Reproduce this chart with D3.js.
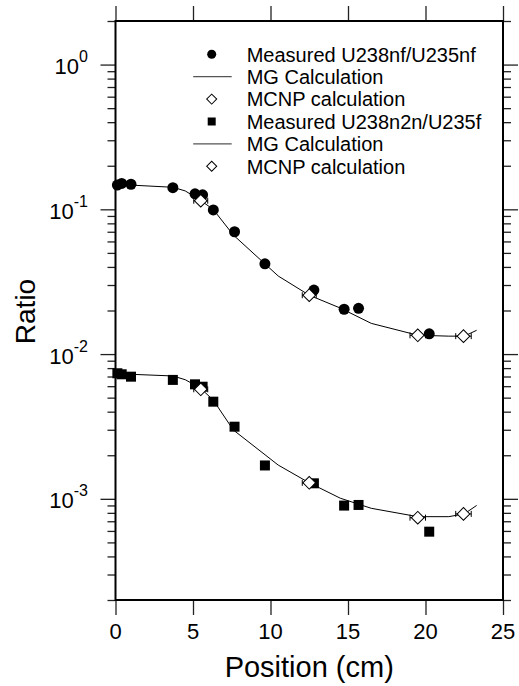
<!DOCTYPE html>
<html>
<head>
<meta charset="utf-8">
<script src="https://cdn.jsdelivr.net/npm/d3@7"></script>
<style>
  body { margin: 0; background: #fff; }
  svg { display: block; font-family: "Liberation Sans", Arial, sans-serif; }
</style>
</head>
<body>
<svg id="chart" width="519" height="686"></svg>
<script>
// Measured U238nf/U235nf
const nfPos = [0.12, 0.4, 1.0, 3.7, 5.13, 5.62, 6.31, 7.68, 9.64, 12.8, 14.75, 15.68, 20.24];
const nfVal = [0.147, 0.151, 0.149, 0.141, 0.128, 0.126, 0.099, 0.070, 0.042, 0.0277, 0.0204, 0.0207, 0.0138];

// Measured U238n2n/U235f
const n2nPos = [0.12, 0.4, 1.0, 3.7, 5.13, 5.62, 6.31, 7.68, 9.64, 12.8, 14.75, 15.68, 20.24];
const n2nVal = [0.00737, 0.00725, 0.00698, 0.00663, 0.00618, 0.00595, 0.00469, 0.00315, 0.00170, 0.00128, 0.000898, 0.000907, 0.000593];

// MG calculation (both ratios share the mesh)
const mgPos = [0, 1.0, 3.7, 4.5, 5.45, 6.3, 7.6, 10.5, 12.5, 14.5, 16.5, 19.5, 21.5, 22.5, 23.3];
const mgNf = [0.148, 0.147, 0.142, 0.134, 0.116, 0.100, 0.0665, 0.0346, 0.0255, 0.0208, 0.0163, 0.0135, 0.0133, 0.0133, 0.0146];
const mgN2n = [0.0074, 0.00725, 0.00706, 0.00665, 0.00585, 0.00482, 0.00299, 0.00171, 0.00129, 0.00101, 0.00086, 0.000753, 0.000753, 0.000787, 0.0009];

// MCNP calculation with position uncertainty
const mcnpPos = [5.5, 12.5, 19.5, 22.45];
const mcnpErr = [0.45, 0.45, 0.5, 0.5];
const mcnpNf = [0.1146, 0.0255, 0.01348, 0.0133];
const mcnpN2n = [0.00571, 0.00129, 0.000741, 0.000787];

const xTicks = [0, 5, 10, 15, 20, 25];
const yMajor = [1, 0.1, 0.01, 0.001];
const yExp = [0, -1, -2, -3];

const legendItems = [
  { type: 'circle', label: 'Measured U238nf/U235nf' },
  { type: 'line', label: 'MG Calculation' },
  { type: 'diamond', label: 'MCNP calculation' },
  { type: 'square', label: 'Measured U238n2n/U235f' },
  { type: 'line', label: 'MG Calculation' },
  { type: 'diamond', label: 'MCNP calculation' },
];

const svg = d3.select('#chart');
const frame = { left: 115.5, right: 503, top: 21, bottom: 600 };

const x = d3.scaleLinear().domain([0, 25]).range([frame.left, frame.right]);
const y = d3.scaleLog().domain([2e-4, 2]).range([frame.bottom, frame.top]);

// Minor ticks 2..9 per decade
const yMinor = [];
for (let e = -4; e <= 0; e++) {
  for (let m = 2; m <= 9; m++) {
    const v = m * Math.pow(10, e);
    if (v >= 2e-4 && v <= 2.0001) yMinor.push(v);
  }
}

function styleAxis(g) {
  g.select('.domain').remove();
  g.selectAll('line').attr('stroke', '#222').attr('stroke-width', 1.3);
  g.selectAll('text').remove();
}

svg.append('g').attr('transform', `translate(${frame.left},0)`)
  .call(d3.axisLeft(y).tickValues(yMinor).tickSize(8)).call(styleAxis);
svg.append('g').attr('transform', `translate(${frame.left},0)`)
  .call(d3.axisLeft(y).tickValues(yMajor).tickSize(15)).call(styleAxis);
svg.append('g').attr('transform', `translate(${frame.right},0)`)
  .call(d3.axisRight(y).tickValues(yMinor).tickSize(8)).call(styleAxis);
svg.append('g').attr('transform', `translate(${frame.right},0)`)
  .call(d3.axisRight(y).tickValues(yMajor).tickSize(15)).call(styleAxis);
svg.append('g').attr('transform', `translate(0,${frame.bottom})`)
  .call(d3.axisBottom(x).tickValues(xTicks).tickSize(15)).call(styleAxis);
svg.append('g').attr('transform', `translate(0,${frame.top})`)
  .call(d3.axisTop(x).tickValues(xTicks).tickSize(15)).call(styleAxis);

// Frame
svg.append('rect')
  .attr('x', frame.left).attr('y', frame.top)
  .attr('width', frame.right - frame.left).attr('height', frame.bottom - frame.top)
  .attr('fill', 'none').attr('stroke', '#000').attr('stroke-width', 2);

// X tick labels
svg.append('g').selectAll('text').data(xTicks).join('text')
  .attr('x', (d) => x(d)).attr('y', frame.bottom + 39)
  .attr('text-anchor', 'middle').attr('font-size', 22)
  .text((d) => d);

// Y tick labels: 10^n
const yl = svg.append('g').selectAll('text').data(yMajor).join('text')
  .attr('x', 88).attr('y', (d) => y(d) + 9.5)
  .attr('text-anchor', 'end').attr('font-size', 22);
yl.append('tspan').text('10');
yl.append('tspan').attr('dy', -12).attr('font-size', 16).text((d, i) => yExp[i]);

// Axis titles
svg.append('text')
  .attr('transform', `translate(35,${(frame.top + frame.bottom) / 2 + 1}) rotate(-90)`)
  .attr('text-anchor', 'middle').attr('font-size', 28)
  .text('Ratio');
svg.append('text')
  .attr('x', (frame.left + frame.right) / 2).attr('y', 677)
  .attr('text-anchor', 'middle').attr('font-size', 29)
  .text('Position (cm)');

const plot = svg.append('g');

// MG lines
const line = d3.line().x((d) => x(d[0])).y((d) => y(d[1]));
[mgNf, mgN2n].forEach((vals) => {
  plot.append('path')
    .datum(mgPos.map((p, i) => [p, vals[i]]))
    .attr('d', line)
    .attr('fill', 'none').attr('stroke', '#000').attr('stroke-width', 1);
});

// Measured points
const circ = d3.symbol().type(d3.symbolCircle).size(95);
const sq = d3.symbol().type(d3.symbolSquare).size(100);
plot.append('g').selectAll('path').data(nfPos.map((p, i) => [p, nfVal[i]])).join('path')
  .attr('d', circ).attr('transform', (d) => `translate(${x(d[0])},${y(d[1])})`)
  .attr('fill', '#000');
plot.append('g').selectAll('path').data(n2nPos.map((p, i) => [p, n2nVal[i]])).join('path')
  .attr('d', sq).attr('transform', (d) => `translate(${x(d[0])},${y(d[1])})`)
  .attr('fill', '#000');

// MCNP points with horizontal error bars
const dia = d3.symbol().type(d3.symbolSquare).size(80);
[mcnpNf, mcnpN2n].forEach((vals) => {
  const data = mcnpPos.map((p, i) => ({ p, v: vals[i], e: mcnpErr[i] }));
  const g = plot.append('g').selectAll('g').data(data).join('g')
    .attr('transform', (d) => `translate(0,${y(d.v)})`);
  g.append('line')
    .attr('x1', (d) => x(d.p - d.e)).attr('x2', (d) => x(d.p + d.e))
    .attr('stroke', '#000').attr('stroke-width', 1);
  g.append('line')
    .attr('x1', (d) => x(d.p - d.e)).attr('x2', (d) => x(d.p - d.e))
    .attr('y1', -3).attr('y2', 3).attr('stroke', '#000').attr('stroke-width', 1);
  g.append('line')
    .attr('x1', (d) => x(d.p + d.e)).attr('x2', (d) => x(d.p + d.e))
    .attr('y1', -3).attr('y2', 3).attr('stroke', '#000').attr('stroke-width', 1);
  g.append('path')
    .attr('d', dia)
    .attr('transform', (d) => `translate(${x(d.p)},0) rotate(45)`)
    .attr('fill', '#fff').attr('stroke', '#000').attr('stroke-width', 1);
});

// Legend
const leg = svg.append('g').selectAll('g').data(legendItems).join('g')
  .attr('transform', (d, i) => `translate(211.7,${54.3 + i * 22.4})`);
leg.each(function(d) {
  const g = d3.select(this);
  if (d.type === 'line') {
    g.append('line').attr('x1', -18.5).attr('x2', 20)
      .attr('stroke', '#555').attr('stroke-width', 1.2);
  } else if (d.type === 'circle') {
    g.append('path').attr('d', d3.symbol().type(d3.symbolCircle).size(64)).attr('fill', '#000');
  } else if (d.type === 'square') {
    g.append('path').attr('d', d3.symbol().type(d3.symbolSquare).size(64)).attr('fill', '#000');
  } else {
    g.append('path').attr('d', d3.symbol().type(d3.symbolSquare).size(50))
      .attr('transform', 'rotate(45)')
      .attr('fill', '#fff').attr('stroke', '#000').attr('stroke-width', 1);
  }
  g.append('text').attr('x', 35).attr('dy', '0.36em')
    .attr('font-size', 20).text(d.label);
});
</script>
</body>
</html>
